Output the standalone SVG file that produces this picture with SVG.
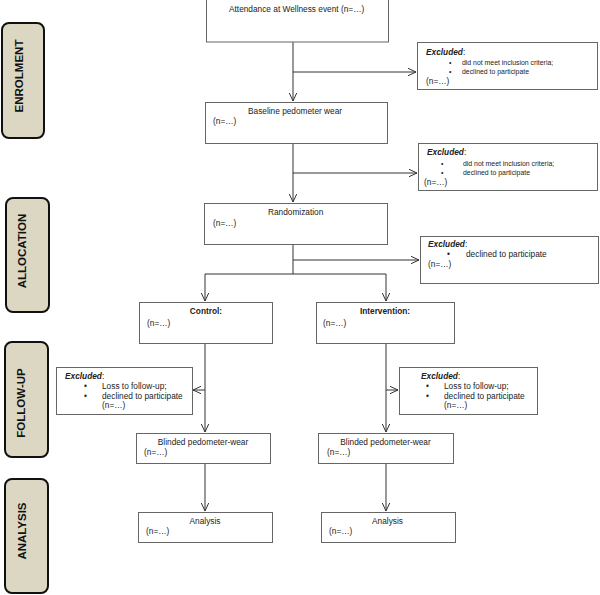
<svg xmlns="http://www.w3.org/2000/svg" width="600" height="595" viewBox="0 0 600 595">
<style>
  text { font-family: "Liberation Sans", Arial, sans-serif; fill: #222; }
  .t { font-size: 8.3px; }
  .s { font-size: 6.9px; }
  .b { font-weight: bold; }
  .bi { font-weight: bold; font-style: italic; font-size: 8.3px; }
  .c { text-anchor: middle; }
  .box { fill: #fff; stroke: #666; stroke-width: 1; }
  .stage { fill: #dcd7c2; stroke: #111; stroke-width: 2; }
  .stext { font-size: 11.5px; font-weight: bold; text-anchor: middle; fill: #111; }
  .ln { fill: none; stroke: #333; stroke-width: 1; }
</style>
<defs>
  <marker id="arr" viewBox="0 0 8 8" refX="8" refY="4" markerWidth="8" markerHeight="8" markerUnits="userSpaceOnUse" orient="auto">
    <path d="M0,0.3 L8,4 L0,7.7" fill="none" stroke="#333" stroke-width="1"/>
  </marker>
</defs>

<!-- stage labels -->
<g id="stage-enrolment">
  <rect class="stage" x="2" y="23" width="42" height="115" rx="7"/>
  <text class="stext" transform="translate(23,76) rotate(-90)">ENROLMENT</text>
</g>
<g id="stage-allocation">
  <rect class="stage" x="6" y="198" width="43" height="114" rx="7"/>
  <text class="stext" transform="translate(26,251) rotate(-90)">ALLOCATION</text>
</g>
<g id="stage-followup">
  <rect class="stage" x="5" y="342" width="43" height="115" rx="7"/>
  <text class="stext" transform="translate(25,403) rotate(-90)">FOLLOW-UP</text>
</g>
<g id="stage-analysis">
  <rect class="stage" x="5" y="479" width="43" height="114" rx="7"/>
  <text class="stext" transform="translate(26,531) rotate(-90)">ANALYSIS</text>
</g>

<!-- connectors -->
<g id="connectors">
  <line class="ln" x1="293" y1="42" x2="293" y2="101" marker-end="url(#arr)"/>
  <line class="ln" x1="293" y1="72" x2="416" y2="72" marker-end="url(#arr)"/>
  <line class="ln" x1="293" y1="143" x2="293" y2="202" marker-end="url(#arr)"/>
  <line class="ln" x1="293" y1="173" x2="417" y2="173" marker-end="url(#arr)"/>
  <line class="ln" x1="293" y1="244" x2="293" y2="274"/>
  <line class="ln" x1="293" y1="260" x2="419" y2="260" marker-end="url(#arr)"/>
  <line class="ln" x1="205" y1="274" x2="386" y2="274"/>
  <line class="ln" x1="205" y1="274" x2="205" y2="301" marker-end="url(#arr)"/>
  <line class="ln" x1="386" y1="274" x2="386" y2="301" marker-end="url(#arr)"/>
  <line class="ln" x1="205" y1="343" x2="205" y2="432" marker-end="url(#arr)"/>
  <line class="ln" x1="205" y1="390" x2="193" y2="390" marker-end="url(#arr)"/>
  <line class="ln" x1="386" y1="344" x2="386" y2="432" marker-end="url(#arr)"/>
  <line class="ln" x1="386" y1="390" x2="398" y2="390" marker-end="url(#arr)"/>
  <line class="ln" x1="205" y1="463" x2="205" y2="511" marker-end="url(#arr)"/>
  <line class="ln" x1="386" y1="463" x2="386" y2="511" marker-end="url(#arr)"/>
</g>

<!-- nodes -->
<g id="attendance">
  <rect class="box" x="206.5" y="-1" width="182" height="43"/>
  <text class="t" x="229" y="12">Attendance at Wellness event (n=…)</text>
</g>
<g id="excluded-1">
  <rect class="box" x="417.5" y="42.5" width="180" height="47"/>
  <text class="bi" x="426" y="54.5">Excluded<tspan font-weight="normal" font-style="normal">:</tspan></text>
  <text class="s" x="449" y="64.5">•</text>
  <text class="s" x="462" y="64.5">did not meet inclusion criteria;</text>
  <text class="s" x="449" y="74">•</text>
  <text class="s" x="462" y="74">declined to participate</text>
  <text class="t" x="426" y="84">(n=…)</text>
</g>
<g id="baseline">
  <rect class="box" x="205.5" y="102.5" width="182" height="41"/>
  <text class="t" x="248" y="114">Baseline pedometer wear</text>
  <text class="t" x="213" y="124">(n=…)</text>
</g>
<g id="excluded-2">
  <rect class="box" x="418.5" y="143.5" width="179" height="47"/>
  <text class="bi" x="427" y="155">Excluded<tspan font-weight="normal" font-style="normal">:</tspan></text>
  <text class="s" x="441" y="165.5">•</text>
  <text class="s" x="463" y="165.5">did not meet inclusion criteria;</text>
  <text class="s" x="441" y="175">•</text>
  <text class="s" x="463" y="175">declined to participate</text>
  <text class="t" x="424" y="185">(n=…)</text>
</g>
<g id="randomization">
  <rect class="box" x="204.5" y="203.5" width="183" height="41"/>
  <text class="t" x="268" y="215">Randomization</text>
  <text class="t" x="213" y="226">(n=…)</text>
</g>
<g id="excluded-3">
  <rect class="box" x="420.5" y="236.5" width="178" height="47"/>
  <text class="bi" x="428" y="247">Excluded<tspan font-weight="normal" font-style="normal">:</tspan></text>
  <text class="t" x="447" y="257">•</text>
  <text class="t" x="466" y="257">declined to participate</text>
  <text class="t" x="428" y="267">(n=…)</text>
</g>
<g id="control">
  <rect class="box" x="139.5" y="302.5" width="133" height="41"/>
  <text class="t b c" x="206" y="314">Control:</text>
  <text class="t" x="147" y="326">(n=…)</text>
</g>
<g id="intervention">
  <rect class="box" x="316.5" y="302.5" width="138" height="41"/>
  <text class="t b c" x="385" y="314">Intervention:</text>
  <text class="t" x="323" y="326">(n=…)</text>
</g>
<g id="excluded-control">
  <rect class="box" x="56.5" y="367.5" width="136" height="47"/>
  <text class="bi" x="65" y="378.5">Excluded<tspan font-weight="normal" font-style="normal">:</tspan></text>
  <text class="t" x="84" y="388.5">•</text>
  <text class="t" x="102" y="388.5">Loss to follow-up;</text>
  <text class="t" x="84" y="398.5">•</text>
  <text class="t" x="102" y="398.5">declined to participate</text>
  <text class="t" x="102" y="408">(n=…)</text>
</g>
<g id="excluded-intervention">
  <rect class="box" x="399.5" y="367.5" width="138" height="47"/>
  <text class="bi" x="421" y="378.5">Excluded<tspan font-weight="normal" font-style="normal">:</tspan></text>
  <text class="t" x="426" y="388.5">•</text>
  <text class="t" x="444" y="388.5">Loss to follow-up;</text>
  <text class="t" x="426" y="398.5">•</text>
  <text class="t" x="444" y="398.5">declined to participate</text>
  <text class="t" x="444" y="408">(n=…)</text>
</g>
<g id="blinded-control">
  <rect class="box" x="136.5" y="433.5" width="134" height="30"/>
  <text class="t c" x="203" y="445">Blinded pedometer-wear</text>
  <text class="t" x="144" y="455">(n=…)</text>
</g>
<g id="blinded-intervention">
  <rect class="box" x="318.5" y="433.5" width="135" height="30"/>
  <text class="t c" x="385.5" y="445">Blinded pedometer-wear</text>
  <text class="t" x="327" y="455">(n=…)</text>
</g>
<g id="analysis-control">
  <rect class="box" x="138.5" y="512.5" width="134" height="30"/>
  <text class="t c" x="205" y="523.5">Analysis</text>
  <text class="t" x="146" y="533.5">(n=…)</text>
</g>
<g id="analysis-intervention">
  <rect class="box" x="321.5" y="512.5" width="134" height="30"/>
  <text class="t c" x="387.5" y="524">Analysis</text>
  <text class="t" x="329" y="534">(n=…)</text>
</g>
</svg>
